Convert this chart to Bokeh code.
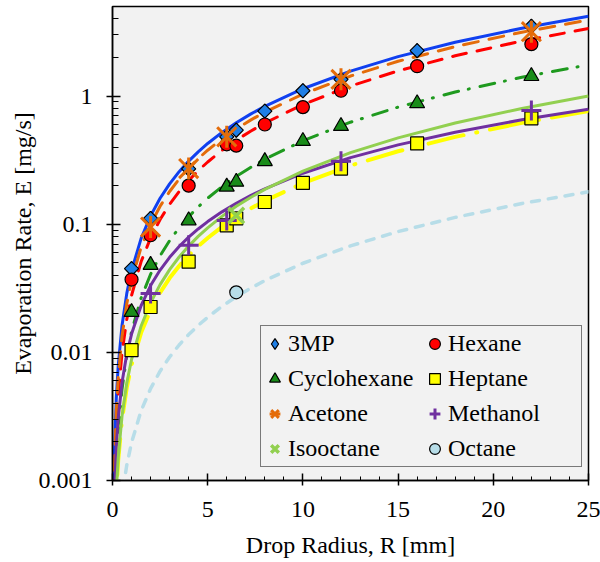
import math
from bokeh.plotting import figure
from bokeh.models import (Range1d, FixedTicker, CustomJSTickFormatter, Legend,
                          LegendItem)
from bokeh.embed import file_html
from bokeh.resources import INLINE

# ---------------- data ----------------
# measured points: drop radius R [mm] and evaporation rate E [mg/s]
r_3mp = [1, 2, 4, 6, 6.5, 8, 10, 12, 16, 22]
e_3mp = [0.045, 0.111, 0.27, 0.48, 0.542, 0.763, 1.10, 1.35, 2.26, 3.5]
r_hexane = [1, 2, 4, 6, 6.5, 8, 10, 12, 16, 22]
e_hexane = [0.037, 0.082, 0.20, 0.42, 0.41, 0.60, 0.82, 1.10, 1.71, 2.54]
r_cyclohexane = [1, 2, 4, 6, 6.5, 8, 10, 12, 16, 22]
e_cyclohexane = [0.0206, 0.048, 0.107, 0.196, 0.214, 0.31, 0.445, 0.583, 0.877, 1.43]
r_heptane = [1, 2, 4, 6, 6.5, 8, 10, 12, 16, 22]
e_heptane = [0.0104, 0.0226, 0.051, 0.098, 0.111, 0.149, 0.21, 0.272, 0.427, 0.67]
r_acetone = [2, 4, 6, 12, 22]
e_acetone = [0.095, 0.272, 0.481, 1.35, 3.18]
r_methanol = [2, 4, 6, 12, 22]
e_methanol = [0.0288, 0.0686, 0.107, 0.31, 0.77]
r_isooctane = [6.5]
e_isooctane = [0.117]
r_octane = [6.5]
e_octane = [0.0294]

# trend curves at these radii
r_fit = [0.05, 0.1, 0.2, 0.3, 0.5, 0.75, 1, 1.5, 2, 2.5, 3, 3.5, 4, 4.5, 5,
         5.75, 6.5, 7.25, 8, 10, 12.5, 15, 18, 21.5, 25]
fit_3mp = [0.000617, 0.00165, 0.00442, 0.00785, 0.01622, 0.02885, 0.0434,
           0.0772, 0.1161, 0.1594, 0.2065, 0.2571, 0.3107, 0.3673, 0.4266,
           0.5203, 0.6193, 0.7231, 0.831, 1.141, 1.567, 2.031, 2.63, 3.384,
           4.19]
fit_hexane = [0.00032, 0.0009, 0.00253, 0.00462, 0.0099, 0.0181, 0.0278,
              0.0509, 0.0781, 0.1089, 0.1429, 0.1798, 0.2193, 0.2614, 0.3058,
              0.3767, 0.452, 0.532, 0.616, 0.859, 1.198, 1.572, 2.063, 2.688,
              3.364]
fit_cyclohexane = [0.000167, 0.000469, 0.00132, 0.00241, 0.00516, 0.00944,
                   0.0145, 0.0265, 0.0407, 0.0568, 0.0745, 0.0938, 0.1144,
                   0.1364, 0.1595, 0.1965, 0.2358, 0.2775, 0.3213, 0.448,
                   0.625, 0.82, 1.076, 1.402, 1.755]
fit_heptane = [0.000115, 0.000306, 0.00082, 0.00145, 0.003, 0.00532, 0.008,
               0.0142, 0.0214, 0.0293, 0.038, 0.0472, 0.057, 0.0674, 0.078,
               0.0954, 0.1135, 0.1325, 0.152, 0.209, 0.287, 0.371, 0.48,
               0.618, 0.765]
fit_acetone = [0.00047, 0.00128, 0.00352, 0.00635, 0.01333, 0.024, 0.0365,
               0.0658, 0.0999, 0.1382, 0.180, 0.2253, 0.274, 0.3247, 0.378,
               0.4636, 0.554, 0.649, 0.749, 1.036, 1.433, 1.868, 2.433, 3.15,
               3.92]
fit_methanol = [0.000324, 0.000772, 0.00184, 0.00307, 0.00582, 0.00969,
                0.0139, 0.0231, 0.0332, 0.0439, 0.0552, 0.067, 0.0792, 0.0918,
                0.1048, 0.1249, 0.1456, 0.167, 0.189, 0.25, 0.331, 0.416,
                0.522, 0.653, 0.79]
fit_isooctane = [0.000108, 0.000298, 0.000826, 0.0015, 0.00318, 0.00577,
                 0.0088, 0.016, 0.0244, 0.0338, 0.0442, 0.0555, 0.0675,
                 0.0803, 0.0937, 0.1151, 0.138, 0.1618, 0.187, 0.26, 0.362,
                 0.472, 0.617, 0.80, 1.0]
fit_octane = [0.0000298, 0.0000787, 0.000207, 0.000366, 0.000749, 0.00132,
              0.001976, 0.00349, 0.00521, 0.00713, 0.0092, 0.01142, 0.01376,
              0.01623, 0.0188, 0.02288, 0.0272, 0.03164, 0.0363, 0.0496,
              0.0678, 0.0876, 0.113, 0.145, 0.179]

x_ticks = [0, 5, 10, 15, 20, 25]
y_ticks = [0.001, 0.01, 0.1, 1]

FONT = "Liberation Serif"

p = figure(width=600, height=562, output_backend="svg", toolbar_location=None,
           x_range=Range1d(0, 25), y_range=Range1d(0.001, 5),
           y_axis_type="log", title=None,
           min_border_left=112, min_border_right=12, min_border_top=6,
           min_border_bottom=82)
p.background_fill_color = "#f2f2f2"
p.border_fill_color = "white"
p.outline_line_color = "black"
p.outline_line_width = 1.5
p.grid.visible = False

# axes
p.xaxis.ticker = FixedTicker(ticks=x_ticks, minor_ticks=list(range(0, 26)))
p.yaxis.ticker = FixedTicker(ticks=y_ticks,
                             minor_ticks=[m * 10.0 ** e for e in range(-3, 1)
                                          for m in range(2, 10)])
p.yaxis.formatter = CustomJSTickFormatter(code="return tick.toString()")
for ax in (p.xaxis[0], p.yaxis[0]):
    ax.axis_line_color = "black"
    ax.axis_line_width = 1.5
    ax.major_tick_line_color = "black"
    ax.major_tick_line_width = 1.5
    ax.minor_tick_line_color = "black"
    ax.minor_tick_line_width = 1
    ax.major_label_text_font = FONT
    ax.major_label_text_font_size = "24px"
    ax.major_label_text_color = "black"
    ax.minor_tick_out = 0
    ax.axis_label_text_font = FONT
    ax.axis_label_text_font_size = "24px"
    ax.axis_label_text_font_style = "normal"
    ax.axis_label_text_color = "black"
p.xaxis.major_tick_in = 7
p.xaxis.major_tick_out = 5
p.xaxis.minor_tick_in = 4
p.xaxis.major_label_standoff = 16
p.xaxis.axis_label = "Drop Radius, R [mm]"
p.xaxis.axis_label_standoff = 12
p.yaxis.major_tick_in = 8
p.yaxis.major_tick_out = 6
p.yaxis.minor_tick_in = 6
p.yaxis.major_label_standoff = 14
p.yaxis.axis_label = "Evaporation Rate, E [mg/s]"
p.yaxis.axis_label_standoff = 0

# trend curves (drawn first, in series order)
p.line(r_fit, fit_3mp, line_color="#1040f0", line_width=3)
p.line(r_fit, fit_hexane, line_color="#ff0000", line_width=3,
       line_dash="14 11", line_cap="round")
p.line(r_fit, fit_cyclohexane, line_color="#1f9a1f", line_width=3,
       line_dash="15 10 1 11", line_cap="round")
p.line(r_fit, fit_heptane, line_color="#ffff00", line_width=4,
       line_dash="36 13 1 13", line_cap="round")
p.line(r_fit, fit_acetone, line_color="#e46c0a", line_width=3,
       line_dash="15 11", line_cap="round")
p.line(r_fit, fit_methanol, line_color="#7030a0", line_width=3)
p.line(r_fit, fit_isooctane, line_color="#92d050", line_width=3)
p.line(r_fit, fit_octane, line_color="#b7dde8", line_width=3.5,
       line_dash="8 9", line_cap="round")

# markers
# a diamond drawn under each tilted square: it is what the legend shows
k_3mp = p.scatter(r_3mp, e_3mp, marker="diamond", size=14,
                  fill_color="#1f7fe6", line_color="black", line_width=1.2)
m_3mp = p.scatter(r_3mp, e_3mp, marker="square", angle=math.pi / 4, size=10,
                  fill_color="#1f7fe6", line_color="black", line_width=1.2)
m_hex = p.scatter(r_hexane, e_hexane, marker="circle", size=13,
                  fill_color="#ff0000", line_color="black", line_width=1.2)
m_cyc = p.scatter(r_cyclohexane, e_cyclohexane, marker="triangle", size=15,
                  fill_color="#1a8c1a", line_color="black", line_width=1.2)
m_hep = p.scatter(r_heptane, e_heptane, marker="square", size=13,
                  fill_color="#ffff00", line_color="black", line_width=1.2)
m_ace1 = p.scatter(r_acetone, e_acetone, marker="x", size=27,
                   line_color="#e46c0a", line_width=3)
m_ace2 = p.scatter(r_acetone, e_acetone, marker="dash", angle=math.pi / 2,
                   size=22, line_color="#e46c0a", line_width=3)
m_met = p.scatter(r_methanol, e_methanol, marker="cross", size=20,
                  line_color="#7030a0", line_width=3)
m_iso = p.scatter(r_isooctane, e_isooctane, marker="x", size=22,
                  line_color="#92d050", line_width=3.5)
m_oct = p.scatter(r_octane, e_octane, marker="circle", size=13,
                  fill_color="#b7dde8", line_color="black", line_width=1.2)

# legend is filled column by column
legend = Legend(items=[
    LegendItem(label="3MP", renderers=[k_3mp]),
    LegendItem(label="Cyclohexane", renderers=[m_cyc]),
    LegendItem(label="Acetone", renderers=[m_ace1, m_ace2]),
    LegendItem(label="Isooctane", renderers=[m_iso]),
    LegendItem(label="Hexane", renderers=[m_hex]),
    LegendItem(label="Heptane", renderers=[m_hep]),
    LegendItem(label="Methanol", renderers=[m_met]),
    LegendItem(label="Octane", renderers=[m_oct]),
], location=(148, 13), ncols=2)
legend.padding = 0
legend.spacing = 0
legend.margin = 0
legend.glyph_width = 27
legend.glyph_height = 35
legend.label_standoff = 0
legend.label_width = 133
legend.label_text_font = FONT
legend.label_text_font_size = "24px"
legend.label_text_color = "black"
legend.border_line_color = "black"
legend.border_line_width = 1
legend.background_fill_color = "#f2f2f2"
legend.background_fill_alpha = 1
p.add_layout(legend)

open("out.html", "w").write(file_html(p, INLINE))
